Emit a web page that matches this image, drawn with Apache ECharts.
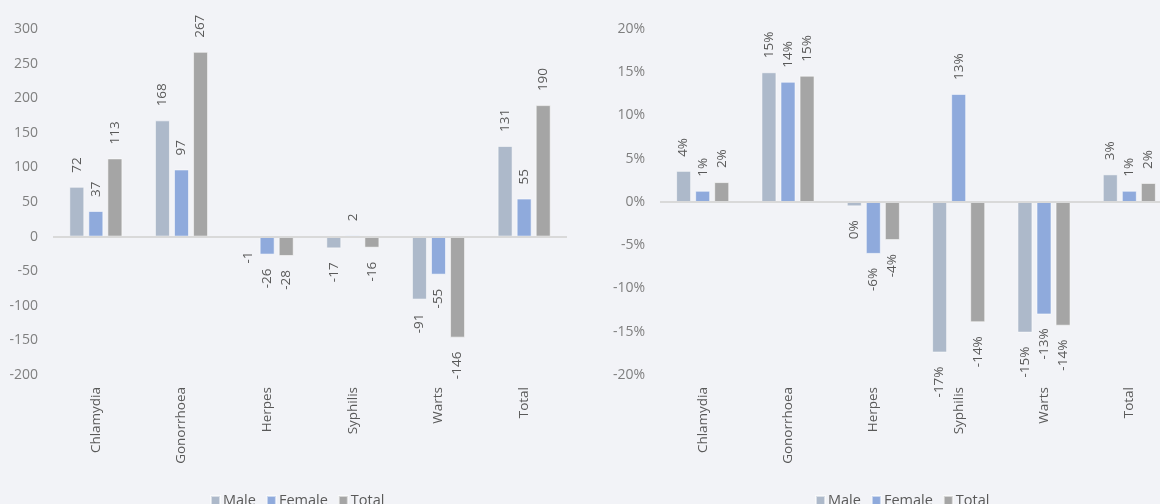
<!DOCTYPE html>
<html>
<head>
<meta charset="utf-8">
<script src="https://cdn.jsdelivr.net/npm/echarts@6/dist/echarts.min.js"></script>
<style>
html,body{margin:0;padding:0;background:#F2F3F7;overflow:hidden;width:1160px;height:504px;}
#c{width:1180px;height:504px;}
</style>
</head>
<body>
<div id="c"></div>
<script>
var categories = ['Chlamydia', 'Gonorrhoea', 'Herpes', 'Syphilis', 'Warts', 'Total'];
var seriesNames = ['Male', 'Female', 'Total'];

// Left chart: absolute change
var countMale   = [72, 168, -1, -17, -91, 131];
var countFemale = [37, 97, -26, 2, -55, 55];
var countTotal  = [113, 267, -28, -16, -146, 190];
var countTicks  = { min: -200, max: 300, interval: 50 };

// Right chart: percentage change
var pctMale   = [3.6, 15.0, -0.5, -17.4, -15.1, 3.2];
var pctFemale = [1.3, 13.9, -6.0, 12.5, -13.0, 1.3];
var pctTotal  = [2.3, 14.6, -4.4, -13.9, -14.3, 2.2];
var pctTicks  = { min: -20, max: 20, interval: 5 };

var colors = ['#ADB9CA', '#8FAADC', '#A5A5A5'];
var FONT = '"Open Sans", sans-serif';

function items(values, fmt) {
  return values.map(function (v) {
    var pos = v >= 0 ? 'top' : 'bottom';
    return {
      value: v,
      label: {
        show: true, position: pos, rotate: 90, distance: 14,
        align: v >= 0 ? 'left' : 'right', verticalAlign: 'middle',
        formatter: function () { return fmt(v); },
        color: '#595959', fontSize: 13.5, fontFamily: FONT
      }
    };
  });
}

function makeSeries(arrs, idx, fmt) {
  return arrs.map(function (arr, i) {
    var s = {
      name: seriesNames[i], type: 'bar',
      xAxisIndex: idx, yAxisIndex: idx,
      barWidth: 15, barGap: '27%',
      itemStyle: { color: colors[i], borderColor: 'rgba(255,255,255,0.55)', borderWidth: 1 },
      data: items(arr, fmt)
    };
    if (i === 0) {
      s.markLine = {
        silent: true, symbol: 'none', label: { show: false },
        lineStyle: { color: '#D9D9D9', width: 2, type: 'solid' },
        data: [{ yAxis: 0 }], animation: false
      };
    }
    return s;
  });
}

function xAxis(idx) {
  return {
    type: 'category', gridIndex: idx, data: categories,
    axisLine: { show: false }, axisTick: { show: false },
    axisLabel: { rotate: 90, margin: 12, color: '#595959', fontSize: 13.5, fontFamily: FONT }
  };
}
function yAxis(idx, t, fmt) {
  return {
    type: 'value', gridIndex: idx, min: t.min, max: t.max, interval: t.interval,
    axisLine: { show: false }, axisTick: { show: false }, splitLine: { show: false },
    axisLabel: { margin: 15, color: '#7F7F7F', fontSize: 14, fontFamily: FONT, formatter: fmt }
  };
}
function legend(left) {
  return {
    data: seriesNames, left: left, top: 488, itemWidth: 9, itemHeight: 9, itemGap: 10,
    icon: 'rect', textStyle: { color: '#595959', fontSize: 14.5, fontFamily: FONT, padding: [0, 0, 0, -2] }
  };
}

var chart = echarts.init(document.getElementById('c'));
chart.setOption({
  backgroundColor: '#F2F3F7',
  animation: false,
  grid: [
    { left: 53, top: 29, width: 514, height: 346 },
    { left: 660, top: 29, width: 512, height: 346 }
  ],
  legend: [legend(205), legend(810)],
  xAxis: [xAxis(0), xAxis(1)],
  yAxis: [
    yAxis(0, countTicks, function (v) { return String(v); }),
    yAxis(1, pctTicks, function (v) { return v + '%'; })
  ],
  series: [].concat(
    makeSeries([countMale, countFemale, countTotal], 0, function (v) { return String(v); }),
    makeSeries([pctMale, pctFemale, pctTotal], 1, function (v) { return String(Math.round(v) || 0) + '%'; })
  )
});
</script>
</body>
</html>
